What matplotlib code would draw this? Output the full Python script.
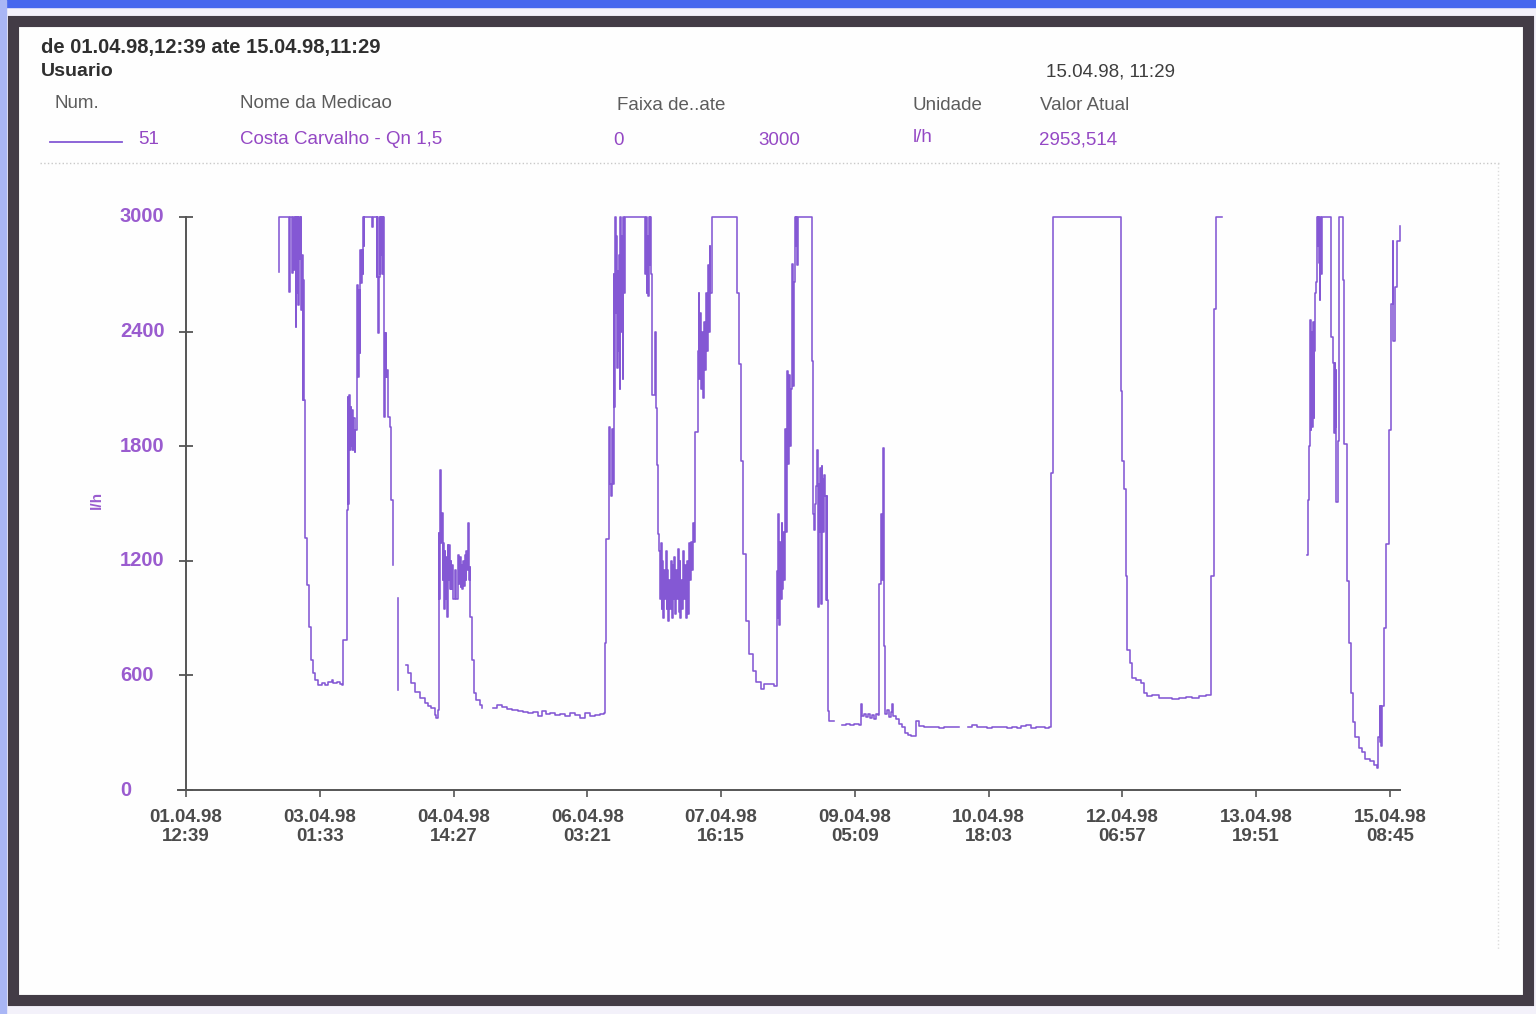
import numpy as np
import matplotlib
matplotlib.use("Agg")
import matplotlib.pyplot as plt
from matplotlib.patches import Rectangle
from matplotlib.lines import Line2D
import matplotlib.transforms as mtransforms

# measurement: flow (l/h) vs hours since 01.04.98 12:39, NaN = no data
nan = np.nan
hours = [
    # peaks around 03.04
    25.71, 25.77, 28.47, 28.52, 28.66, 28.80, 29.13, 29.27, 29.43, 29.63, 29.82, 30.04,
    30.32, 30.46, 30.67, 30.87, 31.03, 31.20, 31.42, 31.61, 31.83, 31.97, 32.16, 32.33,
    32.52, 32.80, 33.27, 33.98, 34.37, 34.92, 35.55, 36.46, 37.40, 38.31, 39.22, 40.16,
    40.60, 41.53, 42.44, 42.91, 43.35, 44.29, 44.65, 44.81, 45.01, 45.20, 45.39, 45.59,
    45.75, 45.94, 46.16, 46.58, 46.71, 47.04, 47.21, 47.35, 47.76, 47.89, 48.09, 48.23,
    48.42, 48.70, 48.86, 49.06, 49.19, 51.26, 51.40, 51.54, 52.56, 52.64, 52.78, 53.00,
    53.19, 53.47, 53.60, 53.80, 53.93, 54.10, 54.29, 54.40, 54.57, 54.70, 54.84, 54.98,
    55.12, 55.31, 55.48, 55.62, 55.75, 56.22, 56.69, 57.13, nan,
    58.51, 58.56, nan,
    # 04.04
    60.63, 61.27, 62.20, 63.11, 64.49, 65.87, 66.78, 67.72, 68.62, 69.09, 69.45, 69.67,
    69.87, 70.09, 70.28, 70.47, 70.64, 70.83, 71.02, 71.19, 71.38, 71.57, 71.74, 71.93,
    72.15, 72.35, 72.57, 72.76, 73.03, 73.22, 73.45, 73.72, 74.14, 74.55, 75.05, 75.24,
    75.51, 75.73, 75.98, 76.20, 76.43, 76.67, 76.89, 77.12, 77.36, 77.58, 77.80, 78.00,
    78.27, 78.41, 78.74, 78.87, 79.37, 79.51, 80.12, 81.03, 81.77, nan,
    # 05.04 - 06.04 night flow
    84.69, 85.71, 87.09, 88.47, 89.85, 91.50, 92.88, 94.26, 95.63, 97.01, 98.11, 99.22,
    100.32, 101.70, 103.07, 104.45, 105.83, 107.21, 108.59, 109.96, 111.34, 112.72,
    114.10, 115.20,
    # 06.04 - 07.04
    115.48, 115.61, 115.89, 116.44, 116.58, 116.85, 117.27, 117.55, 117.77, 117.96,
    118.15, 118.32, 118.51, 118.70, 118.87, 119.06, 119.25, 119.42, 119.61, 119.80,
    120.02, 120.24, 120.43, 120.65, 120.84, 121.03, 125.95, 126.50, 126.64, 126.86,
    127.05, 127.25, 127.44, 127.66, 127.88, 128.10, 128.35, 128.51, 128.98, 129.25,
    129.61, 129.94, 130.17, 130.50, 130.78, 131.00, 131.20, 131.42, 131.61, 131.89,
    132.11, 132.30, 132.58, 132.80, 133.05, 133.27, 133.49, 133.68, 133.96, 134.24,
    134.46, 134.70, 134.91, 135.13, 135.32, 135.60, 135.87, 136.15, 136.37, 136.62,
    136.84, 137.12, 137.34, 137.61, 137.81, 138.09, 138.36, 138.64, 138.91, 139.19,
    139.47, 139.74, 140.02, 140.29, 140.84, 141.12, 141.39, 141.61, 141.88, 142.08,
    142.30, 142.49, 142.77, 143.04, 143.32, 143.59, 143.87, 144.14, 144.42, 144.69,
    145.11, 151.86, 151.99, 152.49, 153.10, 153.59, 154.53, 155.44, 156.35, 157.28,
    158.66, 159.57, 160.95, 162.33, 162.80,
    # 08.04
    162.96, 163.24, 163.43, 163.65, 163.90, 164.12, 164.34, 164.54, 164.81, 165.09,
    165.36, 165.64, 165.91, 166.19, 166.46, 166.74, 167.02, 167.29, 167.51, 167.73,
    167.98, 168.17, 168.39, 168.55, 168.75, 172.53, 172.61, 172.89, 173.36, 173.63,
    173.91, 174.13, 174.32, 174.51, 174.73, 174.95, 175.15, 175.37, 175.56, 175.84,
    176.12, 176.39, 176.61, 176.81, 176.95, 177.09, 177.49, 178.87, nan,
    # 09.04 - 11.04 low flow
    181.07, 182.17, 183.27, 184.38, 185.76, 186.31, 186.59, 187.14, 187.70, 188.23,
    188.79, 189.34, 189.89, 190.44, 190.86, 191.13, 191.63, 191.90, 192.18, 192.46,
    192.65, 192.93, 193.48, 194.03, 194.45, 194.78, 195.13, 195.96, 196.79, 197.62,
    198.45, 199.28, 200.08, 200.91, 201.38, 202.29, 203.67, 205.05, 206.43, 207.80,
    209.18, 210.56, 211.94, 213.32, nan,
    215.61, 216.90, 218.28, 219.66, 221.03, 222.41, 223.79, 225.17, 226.55, 227.92,
    229.30, 230.40, 231.78, 233.16, 234.54, 235.91, 237.02, 238.12,
    # 11.04 - 13.04
    238.58, 239.02, 239.22, 257.88, 257.97, 258.33, 258.80, 259.27, 259.71, 260.44,
    261.08, 262.10, 263.47, 264.30, 265.21, 266.59, 268.43, 270.36, 272.10, 273.95,
    275.79, 277.63, 279.46, 281.31, 282.77, 282.85, 283.32, 283.59, 284.06, 285.71, nan,
    # 14.04 - 15.04
    309.31, 309.50, 309.78, 310.05, 310.27, 310.47, 310.66, 310.88, 311.10, 311.29,
    311.51, 311.71, 311.98, 312.17, 312.36, 312.53, 312.73, 312.95, 313.10, 313.30,
    315.68, 315.77, 316.43, 316.71, 316.90, 317.07, 317.27, 317.35, 317.82, 318.09,
    319.20, 319.28, 319.55, 320.30, 320.77, 321.40, 321.95, 322.59, 323.53, 324.44,
    325.35, 326.73, 327.66, 328.57, 328.79, 329.26, 329.40, 329.59, 329.76, 329.95,
    330.42, 331.14, 331.80, 332.44, 332.85, 332.99, 333.62, 334.09, 334.83,
]
flow = [
    2714, 3000, 3000, 2609, 2700, 3000, 2845, 2707, 2950, 3000, 2720, 3000,
    2426, 3000, 2600, 3000, 2540, 3000, 2780, 3000, 2513, 2800, 2042, 2670,
    2042, 1319, 1073, 853, 681, 613, 576, 550, 560, 550, 565, 576,
    558, 566, 555, 550, 785, 1466, 2059, 1500, 2068, 1780, 2007, 1800,
    1990, 1780, 1950, 1771, 1885, 2100, 2644, 2164, 2618, 2288, 2827, 2654,
    2827, 2700, 3000, 2850, 3000, 3000, 2950, 3000, 3000, 2688, 3000, 2391,
    2688, 3000, 2700, 3000, 2800, 3000, 2700, 3000, 2461, 1955, 2391, 2164,
    2391, 2164, 2199, 1955, 1955, 1902, 1518, 1178, nan,
    1005, 524, nan,
    654, 613, 560, 515, 482, 455, 440, 429, 393, 377, 420, 1346,
    1000, 1675, 1346, 1293, 1450, 1100, 1293, 950, 1250, 1000, 1220, 906,
    1283, 1100, 1283, 1050, 1200, 1050, 1180, 1000, 1150, 1000, 1230, 1080,
    1220, 1063, 1180, 1050, 1200, 1070, 1230, 1100, 1250, 1150, 1396, 1100,
    1168, 906, 906, 681, 681, 508, 470, 445, 429, nan,
    429, 445, 435, 424, 419, 414, 408, 403, 410, 387, 414, 398,
    403, 393, 398, 387, 405, 393, 377, 405, 387, 393,
    398, 403,
    403, 770, 1314, 1314, 1900, 1600, 1540, 1890, 1600, 2700,
    2005, 3000, 2500, 2900, 2210, 2717, 2300, 2800, 2100, 3000,
    2400, 2900, 2150, 3000, 2600, 3000, 3000, 3000, 2700, 3000,
    2600, 2900, 2587, 3000, 2750, 3000, 2700, 2068, 2068, 2400,
    2000, 1700, 1340, 1250, 1000, 1293, 950, 1200, 900, 1150,
    1000, 1250, 950, 1150, 885, 1100, 950, 1200, 900, 1180,
    1000, 1220, 920, 1150, 1000, 1260, 930, 1200, 900, 1100,
    950, 1250, 1000, 1180, 900, 1200, 920, 1293, 1100, 1300,
    1150, 1400, 1300, 1875, 1875, 2300, 2603, 2150, 2500, 2100,
    2400, 2050, 2450, 2200, 2603, 2300, 2750, 2400, 2850, 2600,
    3000, 3000, 2603, 2230, 1723, 1236, 885, 712, 623, 565,
    529, 555, 555, 545, 545,
    1147, 900, 1445, 864, 1300, 1000, 1400, 1050, 1350, 1100,
    1890, 1351, 2194, 1707, 2173, 1800, 2100, 2754, 2115, 2660,
    3000, 2848, 3000, 2750, 3000, 3000, 2246, 1445, 1361, 1500,
    1592, 1780, 958, 1600, 1351, 1686, 974, 1696, 1628, 1351,
    1650, 1540, 995, 1540, 995, 414, 361, 361, nan,
    340, 345, 338, 345, 340, 450, 385, 398, 380, 400,
    375, 395, 370, 400, 395, 1079, 1445, 1100, 1791, 1200,
    754, 398, 420, 380, 410, 450, 390, 370, 345, 330,
    300, 290, 283, 283, 361, 335, 330, 328, 332, 326,
    330, 328, 330, 328, nan,
    330, 340, 328, 332, 326, 330, 328, 330, 326, 330,
    325, 335, 340, 326, 328, 330, 325, 328,
    1660, 1660, 3000, 3000, 2089, 1723, 1576, 1120, 733, 665,
    586, 576, 560, 508, 492, 495, 482, 482, 478, 482,
    486, 482, 492, 495, 495, 1120, 1120, 2518, 3000, 3000, nan,
    1230, 1518, 1800, 2461, 1885, 2400, 1900, 2450, 1950, 2300,
    2600, 2660, 3000, 2850, 3000, 2759, 2566, 3000, 2700, 3000,
    3000, 2372, 2236, 1869, 2236, 1900, 2200, 1508, 1827, 3000,
    3000, 2670, 1812, 1094, 770, 508, 356, 278, 220, 199,
    162, 152, 131, 113, 278, 440, 250, 440, 230, 440,
    848, 1288, 1885, 2545, 2874, 2351, 2634, 2874, 2953.5,
]

# ticks every 36 h 54 min from 01.04.98 12:39
tick_hours = [0, 36.9, 73.8, 110.7, 147.6, 184.5, 221.4, 258.3, 295.2, 332.1]
tick_labels = ['01.04.98\n12:39', '03.04.98\n01:33', '04.04.98\n14:27', '06.04.98\n03:21',
               '07.04.98\n16:15', '09.04.98\n05:09', '10.04.98\n18:03', '12.04.98\n06:57',
               '13.04.98\n19:51', '15.04.98\n08:45']
y_ticks = [0, 600, 1200, 1800, 2400, 3000]

plt.rcParams['font.family'] = ['Liberation Sans', 'DejaVu Sans']

W, H = 1536, 1014
def fx(px):
    return px / W
def fy(py):
    return 1 - py / H

purple_line = '#8458d4'
purple_txt = '#9448c4'
purple_tick = '#9a5ccf'
gray_txt = '#5c5c5c'
dark_txt = '#2f2f2f'

fig = plt.figure(figsize=(W / 100, H / 100), dpi=100)
fig.patch.set_facecolor('#f3f1fa')

# scan look: blue strips, dark frame, white page
fig.patches.append(Rectangle((fx(0), fy(7)), 1, 7 / H, transform=fig.transFigure, color='#4767ee', zorder=-4))
fig.patches.append(Rectangle((0, 0), fx(6), 1, transform=fig.transFigure, color='#a9b6f5', zorder=-4))
fig.patches.append(Rectangle((fx(12.5), fy(999.5)), fx(1527.5) - fx(12.5), fy(20.5) - fy(999.5),
                             transform=fig.transFigure, facecolor='#fefefe', edgecolor='#433c46',
                             linewidth=8, zorder=-3))

# header texts
fig.text(fx(41), fy(47), 'de 01.04.98,12:39 ate 15.04.98,11:29', fontsize=14.5,
         fontweight='bold', color=dark_txt, va='center')
fig.text(fx(41), fy(72), 'Usuario', fontsize=14, fontweight='bold', color=dark_txt, va='center')
fig.text(fx(1046), fy(72), '15.04.98, 11:29', fontsize=13.5, color='#3e3e3e', va='center')

for txt, px, py in [('Num.', 55, 104), ('Nome da Medicao', 240, 104), ('Faixa de..ate', 617, 105),
                    ('Unidade', 913, 106), ('Valor Atual', 1040, 106)]:
    fig.text(fx(px), fy(py), txt, fontsize=13.5, color=gray_txt, va='center')

fig.add_artist(Line2D([fx(50), fx(122)], [fy(142), fy(142)], color=purple_line, lw=1.3))
for txt, px, py in [('51', 138, 140), ('Costa Carvalho - Qn 1,5', 240, 140), ('0', 613, 141),
                    ('3000', 758, 141), ('l/h', 913, 137), ('2953,514', 1039, 140)]:
    fig.text(fx(px), fy(py), txt, fontsize=13.5, color=purple_txt, va='center')

# faint dotted separators of the legend box
fig.add_artist(Line2D([fx(40), fx(1500)], [fy(163), fy(163)], color='#c9c9c9', lw=1, ls=':'))
fig.add_artist(Line2D([fx(1498), fx(1498)], [fy(163), fy(950)], color='#dcdcdc', lw=1, ls=':'))

# plot area
ax = fig.add_axes([fx(186), fy(790), fx(1400) - fx(186), fy(217) - fy(790)])
ax.patch.set_alpha(0)
ax.plot(hours, flow, color=purple_line, lw=1.15, drawstyle='steps-post', clip_on=False)

ax.set_xlim(0, 334.9)
ax.set_ylim(0, 3000)
for s in ['top', 'right']:
    ax.spines[s].set_visible(False)
for s in ['left', 'bottom']:
    ax.spines[s].set_color('#555555')
    ax.spines[s].set_linewidth(1.4)
# x axis line runs a little past the y axis, as in the scan
ax.add_line(Line2D([-2.2, 0], [0, 0], color='#555555', lw=1.4, clip_on=False))

ax.set_yticks(y_ticks)
ax.set_yticklabels([])
ax.tick_params(axis='y', direction='inout', length=10, width=1.3, color='#555555')
trans = mtransforms.blended_transform_factory(fig.transFigure, ax.transData)
for v in y_ticks:
    ax.text(fx(120), v, str(v), transform=trans, fontsize=14.5, fontweight='bold',
            color=purple_tick, ha='left', va='center')
fig.text(fx(97), fy(500), 'l/h', rotation=90, fontsize=11, fontweight='bold',
         color=purple_tick, ha='center', va='center')

ax.set_xticks(tick_hours)
ax.set_xticklabels(tick_labels, fontsize=13.5, fontweight='bold', color='#4b4b4b', linespacing=1.1)
ax.tick_params(axis='x', direction='out', length=5, width=1.2, color='#555555', pad=9)

fig.savefig('out.png', dpi=100, facecolor=fig.get_facecolor())
